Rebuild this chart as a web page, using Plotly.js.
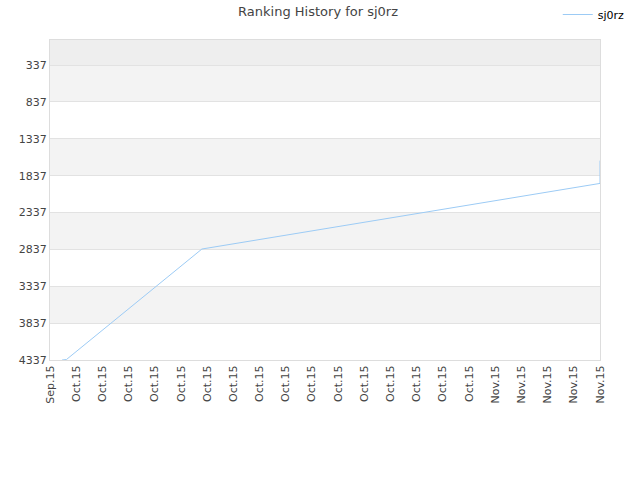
<!DOCTYPE html>
<html>
<head>
<meta charset="utf-8">
<script src="https://cdn.plot.ly/plotly-3.0.1.min.js"></script>
<style>html,body{margin:0;padding:0;background:#fff;}</style>
</head>
<body>
<div id="chart" style="width:640px;height:480px;"></div>
<script>
// Data
var seriesName = "sj0rz";
var pointX = [0.46, 0.63, 5.8, 21, 21];
var pointRank = [4337, 4330, 2832, 1942, 1633];
var tickPos = [0,1,2,3,4,5,6,7,8,9,10,11,12,13,14,15,16,17,18,19,20,21];
var tickLabels = ["Sep.15","Oct.15","Oct.15","Oct.15","Oct.15","Oct.15","Oct.15","Oct.15","Oct.15","Oct.15","Oct.15","Oct.15","Oct.15","Oct.15","Oct.15","Oct.15","Oct.15","Nov.15","Nov.15","Nov.15","Nov.15","Nov.15"];
var rankTicks = [337, 837, 1337, 1837, 2337, 2837, 3337, 3837, 4337];
var bandStarts = [337, 1337, 2337, 3337];
var bandWidth = 500;

var shapes = [];
shapes.push({type:'rect', xref:'paper', yref:'y', x0:0, x1:1, y0:-3, y1:337,
  fillcolor:'#eeeeee', line:{width:0}, layer:'below'});
bandStarts.forEach(function(b){
  shapes.push({type:'rect', xref:'paper', yref:'y', x0:0, x1:1, y0:b, y1:b+bandWidth,
    fillcolor:'#f3f3f3', line:{width:0}, layer:'below'});
});

var trace = {
  x: pointX, y: pointRank, type:'scatter', mode:'lines', name: seriesName,
  line:{color:'#9ccbf5', width:1}, showlegend:true
};

var layout = {
  width:640, height:480,
  margin:{l:50, r:40, t:40, b:120, autoexpand:false},
  paper_bgcolor:'#ffffff', plot_bgcolor:'#ffffff',
  font:{family:'DejaVu Sans, sans-serif', size:11, color:'#444'},
  title:{text:'Ranking History for sj0rz', x:0.497, xanchor:'center', y:0.985, yanchor:'top',
    font:{family:'DejaVu Sans, sans-serif', size:13, color:'#444'}},
  showlegend:true,
  legend:{xref:'container', yref:'container', x:0.984, xanchor:'right', y:1.0, yanchor:'top',
    bgcolor:'rgba(0,0,0,0)', font:{size:11, color:'#000'}},
  xaxis:{range:[0,21], tickmode:'array', tickvals:tickPos, ticktext:tickLabels,
    tickangle:-90, showgrid:false, zeroline:false, showline:true, linecolor:'#dddddd',
    linewidth:1, mirror:true, ticks:'', tickfont:{size:11, color:'#444'}},
  yaxis:{range:[4337,-3], tickmode:'array', tickvals:rankTicks, showgrid:true,
    gridcolor:'#e2e2e2', zeroline:false, showline:true, linecolor:'#dddddd', linewidth:1,
    mirror:true, ticks:'', tickfont:{size:11, color:'#444'}},
  shapes:shapes
};

Plotly.newPlot('chart', [trace], layout, {displayModeBar:false, staticPlot:true});
</script>
</body>
</html>
